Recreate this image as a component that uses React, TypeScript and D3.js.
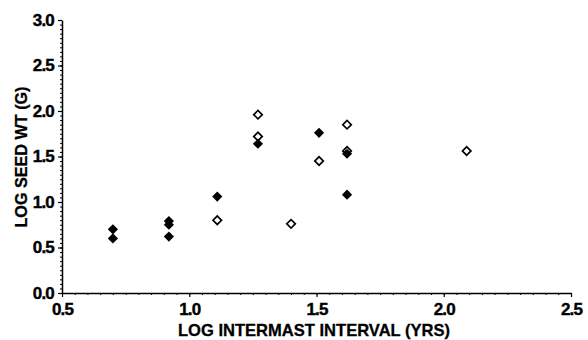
import { useEffect, useRef } from 'react'
import * as d3 from 'd3'

// log intermast interval (x) vs log seed weight (y)
const filledX = [0.7, 0.7, 0.92, 0.92, 0.92, 1.11, 1.27, 1.51, 1.62, 1.62]
const filledY = [0.7, 0.6, 0.79, 0.75, 0.62, 1.06, 1.64, 1.76, 1.53, 1.08]
const openX = [1.11, 1.27, 1.27, 1.4, 1.51, 1.62, 1.62, 2.09]
const openY = [0.8, 1.96, 1.72, 0.76, 1.45, 1.85, 1.56, 1.56]

const xTicks = [0.5, 1.0, 1.5, 2.0, 2.5]
const yTicks = [0.0, 0.5, 1.0, 1.5, 2.0, 2.5, 3.0]

export default function App() {
  const svgRef = useRef<SVGSVGElement>(null)

  useEffect(() => {
    if (!svgRef.current) return
    const svg = d3.select(svgRef.current)
    svg.selectAll('*').remove()

    const width = 588
    const height = 340
    const left = 62
    const right = 571
    const top = 20
    const bottom = 293
    const font = 'Arial, "Liberation Sans", sans-serif'

    const x = d3.scaleLinear().domain([0.5, 2.5]).range([left, right])
    const y = d3.scaleLinear().domain([0, 3]).range([bottom, top])

    svg.attr('width', width).attr('height', height)
    svg.append('rect').attr('width', width).attr('height', height).attr('fill', '#fff')

    // minor ticks every 0.05
    const xMinor = d3.range(0.5, 2.5001, 0.05)
    const yMinor = d3.range(0, 3.0001, 0.05)

    const xg = svg
      .append('g')
      .attr('transform', `translate(0,${bottom})`)
      .call(d3.axisBottom(x).tickValues(xMinor).tickSize(2).tickSizeOuter(0).tickFormat(() => ''))
    xg.select('.domain').attr('stroke', '#000').attr('stroke-width', 1.5)
    xg.selectAll('.tick line').attr('stroke', '#000')

    const yg = svg
      .append('g')
      .attr('transform', `translate(${left},0)`)
      .call(d3.axisLeft(y).tickValues(yMinor).tickSize(2).tickSizeOuter(0).tickFormat(() => ''))
    yg.select('.domain').attr('stroke', '#000').attr('stroke-width', 1.5)
    yg.selectAll('.tick line').attr('stroke', '#000')

    const styleLabels = (sel: d3.Selection<any, any, any, any>) =>
      sel
        .selectAll('.tick text')
        .attr('fill', '#000')
        .attr('stroke', '#000')
        .attr('stroke-width', 0.4)
        .attr('font-family', font)
        .attr('font-weight', 'bold')
        .attr('font-size', 17)
        .attr('letter-spacing', -0.8)

    // major ticks + labels
    const xMajor = svg
      .append('g')
      .attr('transform', `translate(0,${bottom})`)
      .call(d3.axisBottom(x).tickValues(xTicks).tickSize(4).tickPadding(6).tickFormat(d3.format('.1f')))
    xMajor.select('.domain').remove()
    xMajor.selectAll('.tick line').attr('stroke', '#000').attr('stroke-width', 1.2)
    styleLabels(xMajor)

    const yMajor = svg
      .append('g')
      .attr('transform', `translate(${left},0)`)
      .call(d3.axisLeft(y).tickValues(yTicks).tickSize(4).tickPadding(4).tickFormat(d3.format('.1f')))
    yMajor.select('.domain').remove()
    yMajor.selectAll('.tick line').attr('stroke', '#000').attr('stroke-width', 1.2)
    styleLabels(yMajor)

    // titles
    svg
      .append('text')
      .attr('x', 314)
      .attr('y', 336)
      .attr('text-anchor', 'middle')
      .attr('font-family', font)
      .attr('font-weight', 'bold')
      .attr('font-size', 17)
      .attr('stroke', '#000')
      .attr('stroke-width', 0.3)
      .attr('textLength', 272)
      .attr('lengthAdjust', 'spacingAndGlyphs')
      .text('LOG INTERMAST INTERVAL (YRS)')

    svg
      .append('text')
      .attr('transform', `translate(27,157) rotate(-90)`)
      .attr('text-anchor', 'middle')
      .attr('font-family', font)
      .attr('font-weight', 'bold')
      .attr('font-size', 17)
      .attr('stroke', '#000')
      .attr('stroke-width', 0.3)
      .attr('textLength', 141)
      .attr('lengthAdjust', 'spacingAndGlyphs')
      .text('LOG SEED WT (G)')

    const diamond = d3.symbol().type(d3.symbolSquare)

    // open diamonds
    svg
      .append('g')
      .selectAll('path')
      .data(openX.map((v, i) => [v, openY[i]]))
      .join('path')
      .attr('d', diamond.size(36)())
      .attr('transform', (d) => `translate(${x(d[0])},${y(d[1])}) rotate(45)`)
      .attr('fill', '#fff')
      .attr('stroke', '#000')
      .attr('stroke-width', 1.7)

    // filled diamonds
    svg
      .append('g')
      .selectAll('path')
      .data(filledX.map((v, i) => [v, filledY[i]]))
      .join('path')
      .attr('d', diamond.size(52)())
      .attr('transform', (d) => `translate(${x(d[0])},${y(d[1])}) rotate(45)`)
      .attr('fill', '#000')
  }, [])

  return <svg ref={svgRef} style={{ display: 'block', position: 'absolute', left: 0, top: 0 }} />
}
